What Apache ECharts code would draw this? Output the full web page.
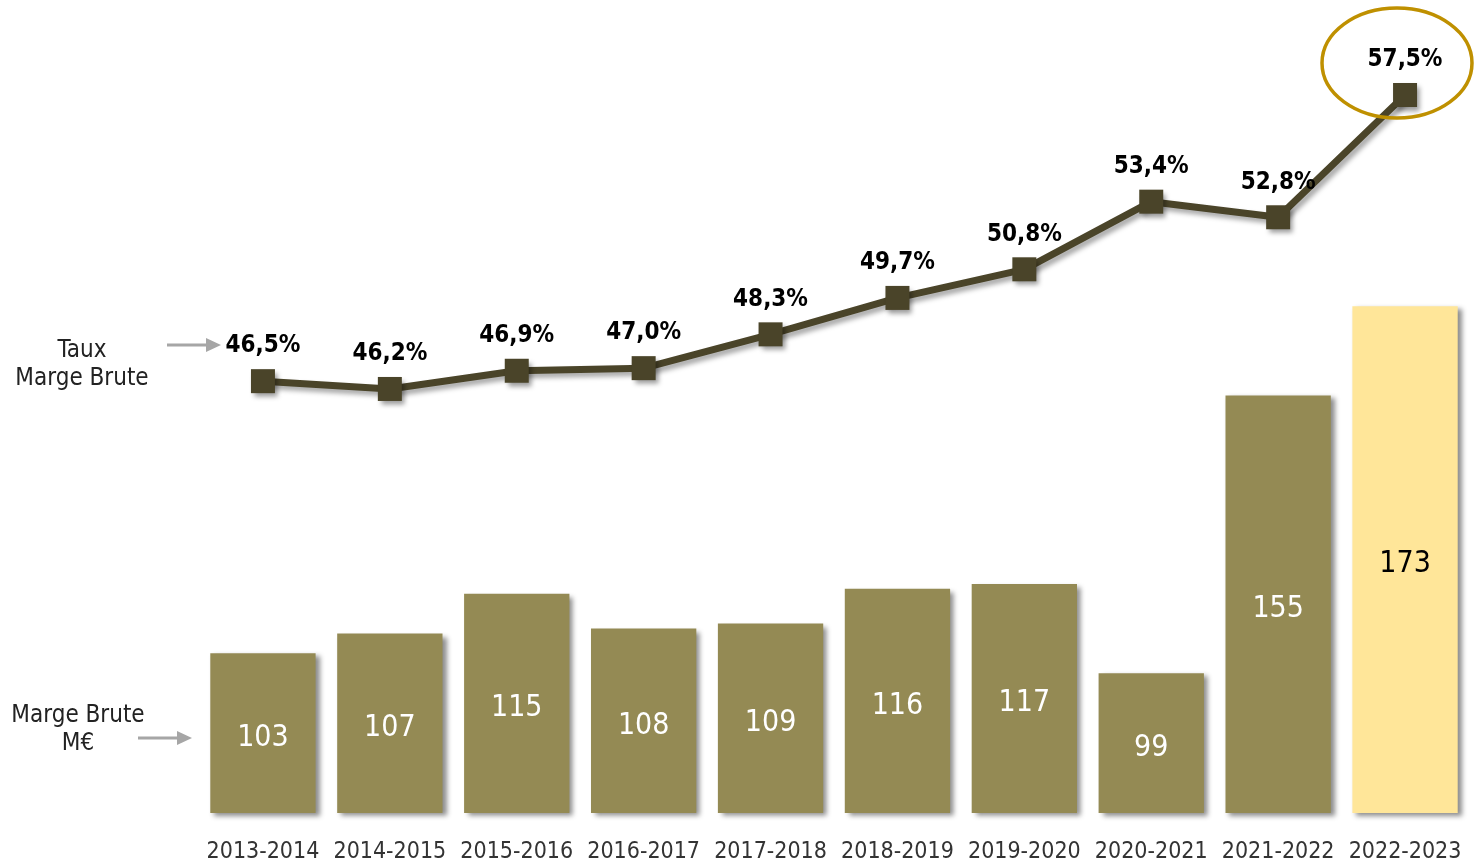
<!DOCTYPE html>
<html><head><meta charset="utf-8">
<script src="https://cdn.jsdelivr.net/npm/echarts@6/dist/echarts.min.js"></script>
<style>html,body{margin:0;padding:0;background:#fff}#c{width:1476px;height:865px}</style>
</head><body><div id="c"></div>
<script>
const categories = ['2013-2014','2014-2015','2015-2016','2016-2017','2017-2018','2018-2019','2019-2020','2020-2021','2021-2022','2022-2023'];
const margeBrute = [103,107,115,108,109,116,117,99,155,173];
const tauxMarge = [46.5,46.2,46.9,47.0,48.3,49.7,50.8,53.4,52.8,57.5];

const FONT = '"DejaVu Sans Condensed","Roboto",sans-serif';
const chart = echarts.init(document.getElementById('c'));
const barData = margeBrute.map((v,i)=> i===margeBrute.length-1 ? {value:v,itemStyle:{color:'#ffe699'},label:{color:'#000'}} : v);
chart.setOption({
  animation:false,
  grid:{left:199.5,right:7.5,top:95,bottom:52},
  xAxis:{type:'category',data:categories,axisLine:{show:false},axisTick:{show:false},
    axisLabel:{interval:0,fontSize:23,color:'#333',margin:28,fontFamily:FONT}},
  yAxis:[
    {type:'value',min:70.8,max:215.6,show:false,splitLine:{show:false}},
    {type:'value',min:29.9,max:57.5,show:false,splitLine:{show:false}}
  ],
  series:[
    {type:'bar',data:barData,yAxisIndex:0,barCategoryGap:'17%',
      itemStyle:{color:'#948a54',shadowColor:'rgba(0,0,0,0.45)',shadowBlur:5,shadowOffsetX:4,shadowOffsetY:3},
      label:{show:true,position:'inside',offset:[0,5],color:'#fff',fontSize:30,fontFamily:FONT}},
    {type:'line',data:tauxMarge,yAxisIndex:1,symbol:'rect',symbolSize:24,
      lineStyle:{color:'#4a4429',width:7,shadowColor:'rgba(0,0,0,0.35)',shadowBlur:5,shadowOffsetX:3,shadowOffsetY:4},
      itemStyle:{color:'#4a4429',shadowColor:'rgba(0,0,0,0.4)',shadowBlur:5,shadowOffsetX:3,shadowOffsetY:4},
      label:{show:true,position:'top',distance:11,color:'#000',fontWeight:'bold',fontSize:24,fontFamily:FONT,
        formatter:p=>p.value.toFixed(1).replace('.',',')+'%'}}
  ],
  graphic:[
    {type:'ellipse',shape:{cx:1397,cy:63,rx:75,ry:55},style:{fill:'none',stroke:'#bf9000',lineWidth:3.5},z:10},
    {type:'text',style:{text:'Taux\nMarge Brute',x:82,y:365,textAlign:'center',textVerticalAlign:'middle',fontSize:24,lineHeight:28,fill:'#222',fontFamily:FONT}},
    {type:'text',style:{text:'Marge Brute\nM€',x:78,y:730,textAlign:'center',textVerticalAlign:'middle',fontSize:24,lineHeight:28,fill:'#222',fontFamily:FONT}},
    {type:'line',shape:{x1:167,y1:345,x2:208,y2:345},style:{stroke:'#a6a6a6',lineWidth:3}},
    {type:'polygon',shape:{points:[[206,338],[221,345],[206,352]]},style:{fill:'#a6a6a6'}},
    {type:'line',shape:{x1:138,y1:738,x2:179,y2:738},style:{stroke:'#a6a6a6',lineWidth:3}},
    {type:'polygon',shape:{points:[[177,731],[192,738],[177,745]]},style:{fill:'#a6a6a6'}}
  ]
});
</script></body></html>
